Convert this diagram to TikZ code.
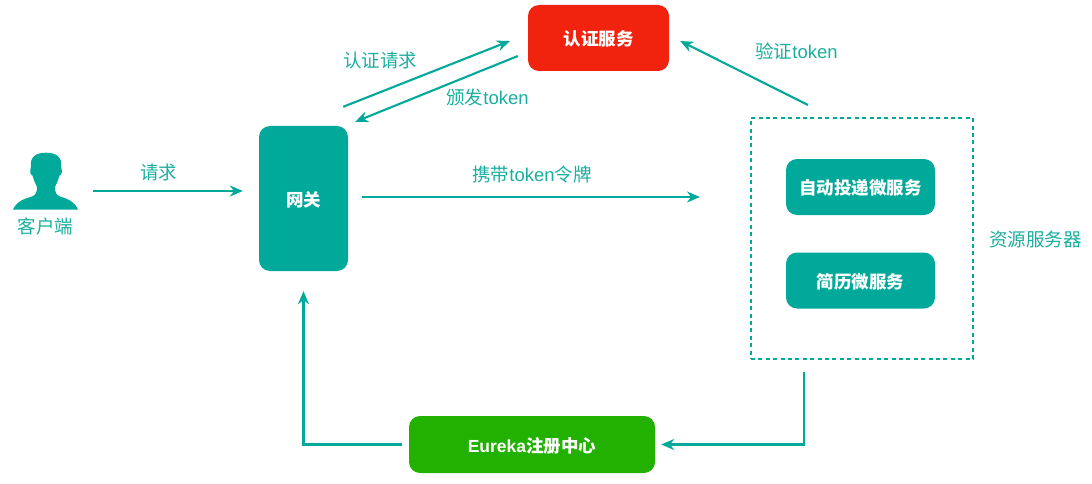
\documentclass[tikz,border=0pt]{standalone}
\usepackage{fontspec}
\usepackage{tikz}
\usetikzlibrary{arrows.meta}
\setmainfont{Liberation Sans}
\newfontfamily\cjk{Noto Sans CJK SC}
\definecolor{flowteal}{HTML}{00A99A}
\definecolor{labelteal}{HTML}{1AAE9F}
\definecolor{authred}{HTML}{F2230E}
\definecolor{eurekagreen}{HTML}{22B100}

\begin{document}
\begin{tikzpicture}[x=1pt, y=-1pt,
    box/.style={rounded corners=11pt, inner sep=0pt, text=white, text height=15pt, text depth=0pt, font=\fontsize{17.5}{20}\selectfont\bfseries},
    flow/.style={draw=flowteal, line width=2.1pt, -{Stealth[length=13pt,width=11pt]}},
    caption/.style={text=labelteal, inner sep=0pt, font=\fontsize{18.5}{21}\selectfont}]
      \useasboundingbox (0,0) rectangle (1092,484);
      % boxes
      \node[box, fill=authred, minimum width=141pt, minimum height=66pt] (auth) at (598.5,38) {\cjk 认证服务};
      \node[box, fill=flowteal, minimum width=89pt, minimum height=145pt] (gateway) at (303.5,198.5) {\cjk 网关};
      \node[draw=flowteal, line width=2pt, dash pattern=on 4pt off 3.4pt, minimum width=222pt, minimum height=241pt] (resource) at (862,238.5) {};
      \node[box, fill=flowteal, minimum width=149pt, minimum height=56pt] (delivery) at (860.5,187) {\cjk 自动投递微服务};
      \node[box, fill=flowteal, minimum width=149pt, minimum height=56pt] (resume) at (860.5,280.5) {\cjk 简历微服务};
      \node[box, fill=eurekagreen, minimum width=246pt, minimum height=57pt] (eureka) at (532,444.5) {Eureka{\cjk 注册中心}};
      % person
      \node[minimum width=65pt, minimum height=57pt, inner sep=0pt] (client) at (45.5,181) {};
      \fill[flowteal] (13,209.5) .. controls (17,201) and (24,199) .. (32,196.5)
        .. controls (36,195) and (37,192) .. (37,187) .. controls (35,183) and (33.5,179) .. (32.5,175.5)
        .. controls (30,175) and (29.5,171) .. (31,167) .. controls (29.5,157) and (36,152.7) .. (46,152.7)
        .. controls (56,152.7) and (62.5,157) .. (61,167) .. controls (62.5,171) and (62,175) .. (59.5,175.5)
        .. controls (58.5,179) and (57,183) .. (55,187) .. controls (55,192) and (56,195) .. (60,196.5)
        .. controls (68,199) and (74,201) .. (78,209.5) -- cycle;
      % labels
      \node[caption] (clientlabel) at (45.5,226) {\cjk 客户端};
      \node[caption] (requestlabel) at (158.5,172) {\cjk 请求};
      \node[caption] (authlabel) at (380,60) {\cjk 认证请求};
      \node[caption] (issuelabel) at (487.5,97) {{\cjk 颁发}token};
      \node[caption] (verifylabel) at (796.5,51) {{\cjk 验证}token};
      \node[caption] (carrylabel) at (532,174) {{\cjk 携带}token{\cjk 令牌}};
      \node[caption] (resourcelabel) at (1035.5,239) {\cjk 资源服务器};
      % connectors
      \draw[flow] ([shift={(15,10)}]client.east) -- ([shift={(-16,-7.5)}]gateway.west);
      \draw[flow] ([shift={(-5,-19)}]gateway.north east) -- ([shift={(-18,3)}]auth.west);
      \draw[flow] ([shift={(-10,18)}]auth.west) -- ([shift={(7,-4)}]gateway.north east);
      \draw[flow] ([shift={(-54,-12)}]resource.north) -- ([shift={(11,3)}]auth.east);
      \draw[flow] ([shift={(14,-1.5)}]gateway.east) -- ([shift={(-50,80)}]resource.north west);
      \draw[flow] ([shift={(-58,12)}]resource.south) |- ([xshift=6pt]eureka.east);
      \draw[flow] ([xshift=-7pt]eureka.west) -| ([yshift=-20pt]gateway.south);
    \end{tikzpicture}
\end{document}
